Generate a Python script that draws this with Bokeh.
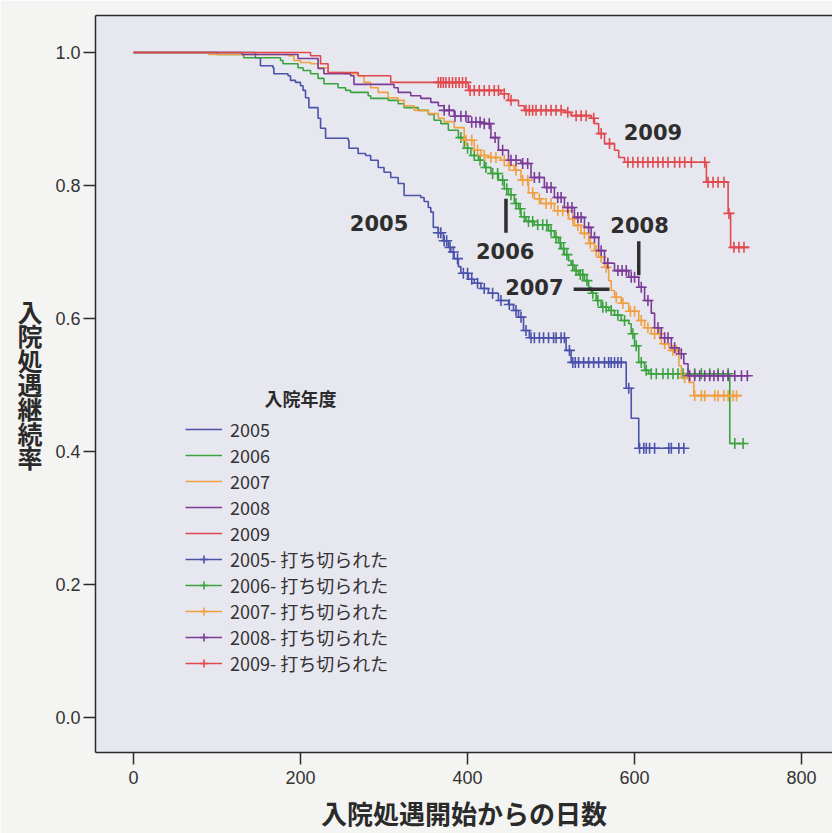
import numpy as np
from bokeh.plotting import figure
from bokeh.models import (Range1d, FixedTicker, LinearAxis, Legend, LegendItem, Label,
                          ColumnDataSource, NumeralTickFormatter)
from bokeh.embed import file_html
from bokeh.resources import INLINE

# ---------------- data ----------------
years = ["2005", "2006", "2007", "2008", "2009"]
colors = ["#4a52aa", "#3aa33e", "#f0a040", "#7b3c98", "#e04a4e"]

t2005 = [146,152,167,168,185,188,194,200,203,206,210,221,224,230,257,258,269,278,284,293,
         300,308,317,324,344,348,353,356,359,365,371,377,380,384,389,392,401,408,416,425,
         437,449,455,461,467,474,518,524,590,596,605]
s2005 = [0.992,0.980,0.977,0.968,0.965,0.958,0.955,0.950,0.943,0.932,0.917,0.901,0.886,0.871,
         0.868,0.856,0.848,0.845,0.838,0.827,0.820,0.812,0.803,0.785,0.782,0.776,0.767,0.760,
         0.737,0.729,0.717,0.707,0.700,0.690,0.678,0.668,0.659,0.653,0.645,0.638,0.627,0.621,
         0.612,0.602,0.582,0.571,0.552,0.534,0.495,0.450,0.405]
end2005 = 660
c2005 = [365,368,372,375,379,383,388,395,400,405,412,420,430,440,450,458,464,470,476,480,486,
         491,497,503,506,512,516,522,526,529,533,539,545,551,557,564,569,572,576,580,584,593,
         606,611,614,618,624,641,644,653,659]

t2006 = [100,132,176,179,197,203,212,221,228,245,254,260,281,284,305,317,324,341,353,360,
         368,377,389,396,404,413,420,428,437,444,449,456,461,464,470,480,497,504,509,512,
         516,521,524,528,533,540,545,548,554,560,569,576,584,593,596,600,605,612,617,714]
s2006 = [0.997,0.992,0.988,0.983,0.977,0.973,0.968,0.961,0.953,0.947,0.943,0.940,0.935,0.931,
         0.928,0.923,0.917,0.913,0.907,0.898,0.893,0.883,0.872,0.856,0.845,0.838,0.827,0.818,
         0.808,0.795,0.786,0.773,0.765,0.753,0.746,0.741,0.732,0.722,0.714,0.705,0.696,0.687,
         0.680,0.672,0.666,0.657,0.647,0.638,0.627,0.617,0.612,0.605,0.597,0.592,0.577,0.559,
         0.534,0.522,0.517,0.412]
end2006 = 732
c2006 = [392,400,408,415,422,430,436,442,447,452,458,463,468,473,478,484,490,495,500,506,511,
         515,519,526,530,535,538,543,550,556,562,566,572,580,588,598,602,608,614,620,626,634,
         640,646,652,658,664,672,680,690,700,712,720,730]

t2007 = [90,185,192,200,212,221,233,252,269,276,284,293,305,317,324,336,353,365,372,384,
         396,408,416,425,440,449,456,464,473,480,488,504,521,528,536,545,552,557,564,569,
         572,576,584,593,605,612,620,632,641,644,653,656,665,671]
s2007 = [0.997,0.995,0.988,0.985,0.983,0.977,0.970,0.968,0.965,0.955,0.947,0.940,0.932,0.928,
         0.920,0.913,0.908,0.901,0.896,0.887,0.868,0.853,0.845,0.842,0.838,0.830,0.823,0.808,
         0.789,0.780,0.773,0.762,0.750,0.740,0.728,0.713,0.702,0.692,0.677,0.657,0.642,0.632,
         0.623,0.611,0.597,0.586,0.577,0.562,0.556,0.552,0.529,0.511,0.504,0.484]
end2007 = 728
c2007 = [398,405,412,420,428,434,444,450,458,466,472,478,486,494,500,508,514,520,526,532,540,
         547,554,560,566,578,586,595,600,608,616,624,630,636,646,650,660,672,680,684,696,700,
         707,712,718,722]

t2008 = [130,197,221,228,260,264,312,317,332,344,356,365,372,384,401,420,428,437,449,464,
         476,492,504,516,528,540,548,557,564,576,593,605,612,620,624,632,644,653,659,664]
s2008 = [0.997,0.991,0.976,0.968,0.965,0.952,0.947,0.940,0.935,0.931,0.925,0.920,0.913,0.904,
         0.895,0.893,0.872,0.853,0.838,0.833,0.812,0.797,0.782,0.767,0.752,0.737,0.722,0.702,
         0.683,0.672,0.662,0.647,0.627,0.608,0.586,0.571,0.556,0.547,0.532,0.514]
end2008 = 737
c2008 = [372,378,385,392,398,405,410,415,420,426,433,442,452,458,466,472,480,486,495,500,508,
         512,520,525,532,536,545,552,560,568,580,585,590,596,600,608,616,628,636,640,648,656,
         666,672,678,684,690,695,700,706,712,720,728,735]

t2009 = [212,224,233,269,308,401,440,449,461,468,516,524,548,552,557,564,576,581,588,686,712,715]
s2009 = [0.995,0.983,0.970,0.965,0.955,0.943,0.938,0.928,0.920,0.913,0.910,0.905,0.901,0.893,
         0.878,0.863,0.853,0.842,0.835,0.805,0.758,0.707]
end2009 = 737
c2009 = [365,368,371,374,378,382,386,390,394,398,403,408,414,420,426,432,437,444,452,470,474,
         478,482,488,494,500,506,512,520,530,536,542,551,560,570,592,598,604,610,616,622,628,
         634,640,648,654,660,668,684,688,694,700,707,713,719,725,731]

x_ticks = [0, 200, 400, 600, 800]
y_ticks = [0.0, 0.2, 0.4, 0.6, 0.8, 1.0]
x_title = "入院処遇開始からの日数"
y_title = "入院処遇継続率"
legend_title = "入院年度"
censor_suffix = "- 打ち切られた"

series = [
    (t2005, s2005, end2005, c2005),
    (t2006, s2006, end2006, c2006),
    (t2007, s2007, end2007, c2007),
    (t2008, s2008, end2008, c2008),
    (t2009, s2009, end2009, c2009),
]

# ---------------- figure ----------------
p = figure(width=832, height=833, output_backend="svg", toolbar_location=None,
           x_range=Range1d(-45.5, 837), y_range=Range1d(-0.0526, 1.0556),
           min_border_left=95, min_border_right=0, min_border_top=15, min_border_bottom=81)
p.background_fill_color = "#e7e7f0"
p.border_fill_color = "#f4f4f2"
p.outline_line_color = None
p.grid.visible = False

for ax in (p.xaxis[0], p.yaxis[0]):
    ax.axis_line_color = "#2a2a2a"
    ax.axis_line_width = 1.5
    ax.major_tick_line_color = "#2a2a2a"
    ax.major_tick_line_width = 1.5
    ax.major_tick_out = 12
    ax.major_tick_in = 0
    ax.minor_tick_line_color = None
    ax.major_label_text_font = "Liberation Sans Narrow, Liberation Sans"
    ax.major_label_text_font_size = "18px"
    ax.major_label_text_color = "#333333"
    ax.axis_label_text_font = "Noto Sans CJK JP"
    ax.axis_label_text_font_style = "bold"
    ax.axis_label_text_color = "#2a2a2a"

p.xaxis.ticker = FixedTicker(ticks=x_ticks)
p.xaxis.formatter = NumeralTickFormatter(format="0")
p.xaxis.major_label_standoff = 6
p.xaxis.axis_label = x_title
p.xaxis.axis_label_text_font_size = "26px"
p.xaxis.axis_label_standoff = 7

p.yaxis.ticker = FixedTicker(ticks=y_ticks)
p.yaxis.formatter = NumeralTickFormatter(format="0.0")
p.yaxis.major_label_standoff = 3
p.yaxis.axis_label = "\n".join(y_title)
p.yaxis.axis_label_orientation = "horizontal"
p.yaxis.axis_label_text_font_size = "25px"
p.yaxis.axis_label_text_line_height = 0.68
p.yaxis.axis_label_standoff = 10

top = LinearAxis(ticker=FixedTicker(ticks=[]), major_label_text_font_size="0px",
                 major_tick_line_color=None, minor_tick_line_color=None,
                 axis_line_color="#2a2a2a", axis_line_width=1.5)
p.add_layout(top, "above")

nan = [np.nan]
line_items = []
cens_items = []
for yr, col, (t, s, end, cens) in zip(years, colors, series):
    xs = [0] + list(t) + [end]
    ys = [1.0] + list(s) + [s[-1]]
    r = p.step(xs, ys, mode="after", line_color=col, line_width=1.6)
    idx = np.searchsorted(np.array(t), np.array(cens), side="right") - 1
    sv = np.array(s)
    cy = np.where(idx >= 0, sv[np.clip(idx, 0, None)], 1.0)
    src = ColumnDataSource(dict(x=cens, y=cy))
    p.scatter("x", "y", source=src, marker="cross", size=11, line_color=col, line_width=1.6)
    dline = p.line(x=nan, y=nan, line_color=col, line_width=1.6)
    dmark = p.scatter(x=nan, y=nan, marker="cross", size=17, line_color=col, line_width=1.6)
    line_items.append(LegendItem(label=yr, renderers=[r]))
    cens_items.append(LegendItem(label=yr + censor_suffix, renderers=[dline, dmark]))

legend = Legend(items=line_items + cens_items, location=(90, 76),
                label_text_font="Noto Sans CJK JP", label_text_font_size="18px",
                label_text_color="#333333",
                glyph_width=37, glyph_height=20, label_height=20, spacing=0,
                label_standoff=8, padding=0, margin=0,
                border_line_alpha=0, background_fill_alpha=0)
p.add_layout(legend)

p.add_layout(Label(x=200, y=0.481, text=legend_title, text_align="center",
                   text_baseline="middle", text_font="Noto Sans CJK JP",
                   text_font_style="bold", text_font_size="18px", text_color="#2a2a2a"))

# year annotations
ann = [("2005", 294, 0.744), ("2006", 445, 0.701), ("2007", 480, 0.647),
       ("2008", 606, 0.741), ("2009", 622, 0.880)]
for txt, ax_, ay_ in ann:
    p.add_layout(Label(x=ax_, y=ay_, text=txt, text_align="center", text_baseline="middle",
                       text_font="DejaVu Sans", text_font_style="bold",
                       text_font_size="21px", text_color="#2e2e2e"))

p.segment(x0=[446, 527, 605], y0=[0.780, 0.644, 0.716],
          x1=[446, 570, 605], y1=[0.729, 0.644, 0.665],
          line_color="#2e2e2e", line_width=3.5)

open("out.html", "w").write(file_html(p, INLINE))
